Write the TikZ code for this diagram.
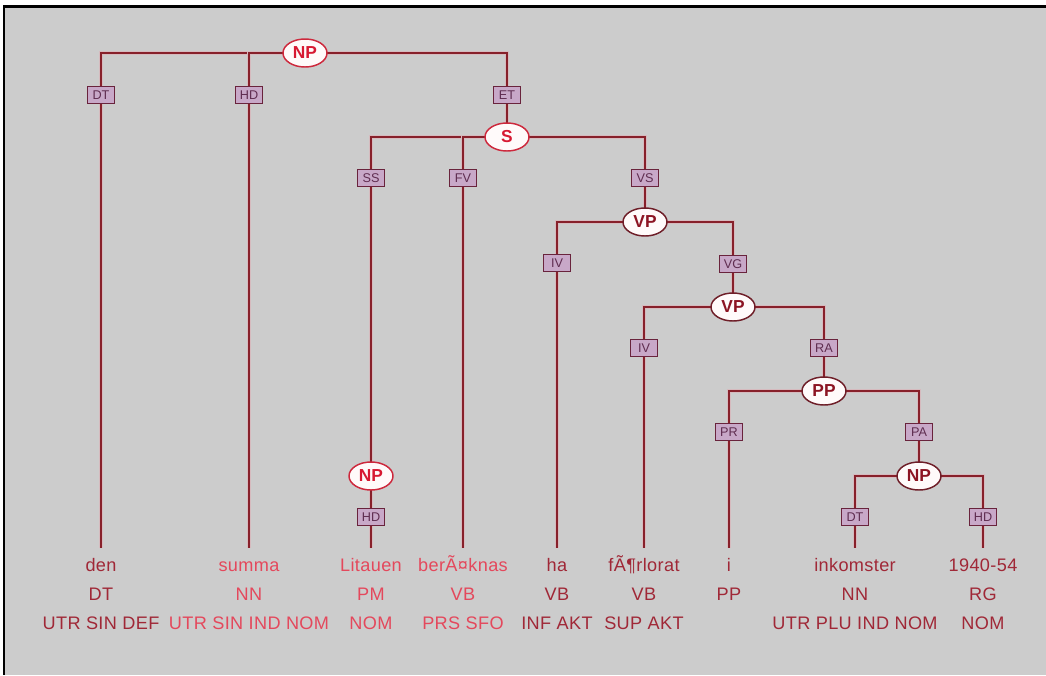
\documentclass[tikz,border=0pt]{standalone}
\usepackage{fontspec}
\setmainfont{Liberation Sans}
\newfontfamily\wordfont[LetterSpace=2]{Liberation Sans}
\usetikzlibrary{shapes.geometric,backgrounds}
\definecolor{bgC}{RGB}{204,204,204}
\definecolor{lineC}{RGB}{135,32,42}
\definecolor{haloC}{RGB}{214,186,190}
\definecolor{boxF}{RGB}{200,168,200}
\definecolor{boxD}{RGB}{105,35,60}
\definecolor{boxT}{RGB}{95,45,80}
\definecolor{ellF}{RGB}{255,250,250}
\definecolor{ellRed}{RGB}{205,40,60}
\definecolor{ellDark}{RGB}{110,30,40}
\definecolor{txtRed}{RGB}{215,25,50}
\definecolor{txtDark}{RGB}{140,20,35}
\definecolor{wDark}{RGB}{160,40,55}
\definecolor{wLight}{RGB}{228,72,92}
\begin{document}
\begin{tikzpicture}[x=0.75pt,y=-0.75pt,
  cat/.style={ellipse, fill=ellF, line width=1.1pt, minimum width=33pt, minimum height=21pt, inner sep=0pt, font=\bfseries\fontsize{13}{13}\selectfont},
  catA/.style={cat, draw=ellRed, text=txtRed},
  catB/.style={cat, draw=ellDark, text=txtDark},
  fn/.style={rectangle, draw=boxD, fill=boxF, line width=0.9pt, minimum width=20pt, minimum height=13pt, inner sep=0pt, font=\fontsize{9.5}{9.5}\selectfont, text=boxT},
  wone/.style={anchor=base, inner xsep=0pt, inner ysep=7.25pt, text height=10pt, text depth=0pt, font=\wordfont\fontsize{13.6}{13.6}\selectfont},
  wtwo/.style={anchor=base, inner sep=0pt, font=\wordfont\fontsize{13.6}{13.6}\selectfont},
  conn/.style={draw=lineC, line width=1.2pt, preaction={draw=haloC, line width=3.2pt}}
]
\useasboundingbox (0,0) rectangle (1046,675);

% category ellipses
\node[catA] (np1) at (305,53) {NP};
\node[catA] (s) at (507,137) {S};
\node[catB] (vp1) at (645,222) {VP};
\node[catB] (vp2) at (733,307) {VP};
\node[catB] (pp) at (824,391) {PP};
\node[catA] (np2) at (371,476) {NP};
\node[catB] (np3) at (919,476) {NP};

% function boxes
\node[fn] (dt1) at (101,95) {DT};
\node[fn] (hd1) at (249,95) {HD};
\node[fn] (et) at (507,95) {ET};
\node[fn] (ss) at (371,178) {SS};
\node[fn] (fv) at (463,178) {FV};
\node[fn] (vs) at (645,178) {VS};
\node[fn] (iv1) at (557,263) {IV};
\node[fn] (vg) at (733,264) {VG};
\node[fn] (iv2) at (644,348) {IV};
\node[fn] (ra) at (824,348) {RA};
\node[fn] (pr) at (729,432) {PR};
\node[fn] (pa) at (919,432) {PA};
\node[fn] (hd2) at (371,517) {HD};
\node[fn] (dt2) at (855,517) {DT};
\node[fn] (hd3) at (983,517) {HD};

% words
\node[wone,text=wDark] (w1) at (101,571) {den};
\node[wtwo,text=wDark] (w1b) at (101,600) {DT};
\node[wtwo,text=wDark] (w1c) at (101,629) {UTR SIN DEF};
\node[wone,text=wLight] (w2) at (249,571) {summa};
\node[wtwo,text=wLight] (w2b) at (249,600) {NN};
\node[wtwo,text=wLight] (w2c) at (249,629) {UTR SIN IND NOM};
\node[wone,text=wLight] (w3) at (371,571) {Litauen};
\node[wtwo,text=wLight] (w3b) at (371,600) {PM};
\node[wtwo,text=wLight] (w3c) at (371,629) {NOM};
\node[wone,text=wLight] (w4) at (463,571) {berÃ¤knas};
\node[wtwo,text=wLight] (w4b) at (463,600) {VB};
\node[wtwo,text=wLight] (w4c) at (463,629) {PRS SFO};
\node[wone,text=wDark] (w5) at (557,571) {ha};
\node[wtwo,text=wDark] (w5b) at (557,600) {VB};
\node[wtwo,text=wDark] (w5c) at (557,629) {INF AKT};
\node[wone,text=wDark] (w6) at (644,571) {fÃ¶rlorat};
\node[wtwo,text=wDark] (w6b) at (644,600) {VB};
\node[wtwo,text=wDark] (w6c) at (644,629) {SUP AKT};
\node[wone,text=wDark] (w7) at (729,571) {i};
\node[wtwo,text=wDark] (w7b) at (729,600) {PP};
\node[wone,text=wDark] (w8) at (855,571) {inkomster};
\node[wtwo,text=wDark] (w8b) at (855,600) {NN};
\node[wtwo,text=wDark] (w8c) at (855,629) {UTR PLU IND NOM};
\node[wone,text=wDark] (w9) at (983,571) {1940-54};
\node[wtwo,text=wDark] (w9b) at (983,600) {RG};
\node[wtwo,text=wDark] (w9c) at (983,629) {NOM};

\begin{pgfonlayer}{background}
  \fill[white] (0,0) rectangle (1046,675);
  \fill[bgC] (4,7) rectangle (1046,675);
  \draw[black, line width=2.4pt] (3,6.5) -- (1046,6.5);
  \draw[black, line width=1.6pt] (4,5) -- (4,675);
  % NP top
  \draw[conn] (np1.center) -| (dt1.north);
  \draw[conn] (np1.center) -| (hd1.north);
  \draw[conn] (np1.center) -| (et.north);
  \draw[conn] (dt1.south) -- (w1.north);
  \draw[conn] (hd1.south) -- (w2.north);
  \draw[conn] (et.south) -- (s.center);
  % S
  \draw[conn] (s.center) -| (ss.north);
  \draw[conn] (s.center) -| (fv.north);
  \draw[conn] (s.center) -| (vs.north);
  \draw[conn] (ss.south) -- (np2.center);
  \draw[conn] (fv.south) -- (w4.north);
  \draw[conn] (vs.south) -- (vp1.center);
  \draw[conn] (np2.center) -- (hd2.north);
  \draw[conn] (hd2.south) -- (w3.north);
  % VP1
  \draw[conn] (vp1.center) -| (iv1.north);
  \draw[conn] (vp1.center) -| (vg.north);
  \draw[conn] (iv1.south) -- (w5.north);
  \draw[conn] (vg.south) -- (vp2.center);
  % VP2
  \draw[conn] (vp2.center) -| (iv2.north);
  \draw[conn] (vp2.center) -| (ra.north);
  \draw[conn] (iv2.south) -- (w6.north);
  \draw[conn] (ra.south) -- (pp.center);
  % PP
  \draw[conn] (pp.center) -| (pr.north);
  \draw[conn] (pp.center) -| (pa.north);
  \draw[conn] (pr.south) -- (w7.north);
  \draw[conn] (pa.south) -- (np3.center);
  % NP lower
  \draw[conn] (np3.center) -| (dt2.north);
  \draw[conn] (np3.center) -| (hd3.north);
  \draw[conn] (dt2.south) -- (w8.north);
  \draw[conn] (hd3.south) -- (w9.north);
\end{pgfonlayer}
\end{tikzpicture}
\end{document}
